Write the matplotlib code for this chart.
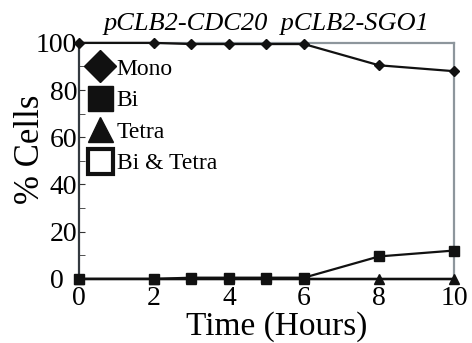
import matplotlib.pyplot as plt
from matplotlib.lines import Line2D

plt.rcParams['font.family'] = ['Liberation Serif', 'DejaVu Serif']

hours = [0, 2, 3, 4, 5, 6, 8, 10]
mono = [100, 100, 99.5, 99.5, 99.5, 99.5, 90.5, 88]
bi = [0, 0, 0.5, 0.5, 0.5, 0.5, 9.5, 12]
tetra = [0, 0, 0, 0, 0, 0, 0, 0]
bi_tetra = [0, 0, 0, 0, 0, 0, 0, 0]
y_ticks = [0, 20, 40, 60, 80, 100]
y_ticklabels = ['0  ', '20', '40', '60', '80', '100']

fig = plt.figure(figsize=(4.72, 3.43), dpi=100)
ax = fig.add_axes([0.167, 0.187, 0.795, 0.688])

ax.plot(hours, bi_tetra, color='#111111', lw=1.6, clip_on=False, zorder=3)
ax.plot(hours, tetra, color='#111111', lw=1.6, marker='^', ms=6.5, clip_on=False, zorder=4)
ax.plot(hours, bi, color='#111111', lw=1.6, marker='s', ms=7, clip_on=False, zorder=5)
ax.plot(hours, mono, color='#111111', lw=1.6, marker='D', ms=5.5, clip_on=False, zorder=6)

ax.set_xlim(0, 10)
ax.set_ylim(0, 100)
ax.set_xticks([0, 2, 4, 6, 8, 10])
ax.set_yticks(y_ticks)
ax.set_yticklabels(y_ticklabels)
ax.set_yticks(range(0, 101, 10), minor=True)
ax.tick_params(axis='both', labelsize=20, direction='in', length=4, color='#333333', pad=1)
ax.tick_params(axis='y', which='minor', direction='in', length=4, color='#333333')
ax.tick_params(axis='x', length=0, pad=5)

for s in ['top', 'right']:
    ax.spines[s].set_color('#8d969c')
    ax.spines[s].set_linewidth(1.6)
ax.spines['left'].set_color('#333a40')
ax.spines['left'].set_linewidth(1.6)
ax.spines['bottom'].set_color('#111111')
ax.spines['bottom'].set_linewidth(1.6)

ax.set_xlabel('Time (Hours)', fontsize=24)
ax.xaxis.set_label_coords(0.528, -0.135)
ax.set_ylabel('% Cells', fontsize=25)
ax.yaxis.set_label_coords(-0.085, 0.55)
ax.set_title('pCLB2-CDC20  pCLB2-SGO1', fontsize=19, style='italic', pad=9)

handles = [
    Line2D([], [], ls='none', marker='D', ms=16, color='#111111'),
    Line2D([], [], ls='none', marker='s', ms=18, color='#111111'),
    Line2D([], [], ls='none', marker='^', ms=18, color='#111111'),
    Line2D([], [], ls='none', marker='s', ms=18, mfc='white', mec='#111111', mew=3),
]
ax.legend(handles, ['Mono', 'Bi', 'Tetra', 'Bi & Tetra'], loc='upper left',
          frameon=False, fontsize=17, handlelength=1.0, handletextpad=0.2,
          labelspacing=0.42, borderaxespad=0.0, bbox_to_anchor=(0.0, 0.975))

fig.savefig('out.png', dpi=100)
